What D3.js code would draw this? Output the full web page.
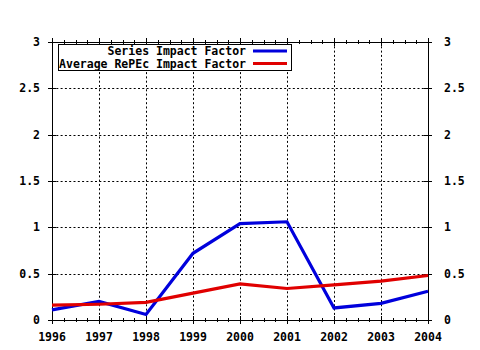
<!DOCTYPE html>
<html><head><meta charset="utf-8">
<script src="https://cdn.jsdelivr.net/npm/d3@7"></script>
<style>html,body{margin:0;padding:0;background:#fff;}svg{display:block;}</style>
</head><body>
<script>
const years = [1996,1997,1998,1999,2000,2001,2002,2003,2004];
const seriesIF = [0.11,0.20,0.06,0.72,1.04,1.06,0.13,0.18,0.31];
const averageIF = [0.16,0.17,0.19,0.29,0.39,0.34,0.38,0.42,0.48];
const yTicks = [0,0.5,1,1.5,2,2.5,3];
const seriesNames = ["Series Impact Factor","Average RePEc Impact Factor"];
const seriesColors = ["#0000dc","#e00000"];

const W=480,H=350, L=52, R=428, T=42, B=320;
const svg=d3.select("body").append("svg").attr("width",W).attr("height",H);
const x=d3.scaleLinear().domain([1996,2004]).range([L,R]);
const y=d3.scaleLinear().domain([0,3]).range([B,T]);
const font="'DejaVu Sans Mono', monospace";

// grid
const g=svg.append("g");
g.selectAll(".vg").data(years.slice(1,-1)).enter().append("line")
 .attr("x1",d=>Math.round(x(d))+0.5).attr("x2",d=>Math.round(x(d))+0.5).attr("y1",T).attr("y2",B)
 .attr("stroke","#000").attr("stroke-dasharray","2,2.3").attr("stroke-width",1);
g.selectAll(".hg").data(yTicks.slice(1,-1)).enter().append("line")
 .attr("y1",d=>Math.round(y(d))+0.5).attr("y2",d=>Math.round(y(d))+0.5).attr("x1",L).attr("x2",R)
 .attr("stroke","#000").attr("stroke-dasharray","2,2.3").attr("stroke-width",1);

// minor x ticks
const minors=[];
for(let i=0;i<years.length-1;i++){for(let k=1;k<4;k++)minors.push(years[i]+k/4);}
[B,T].forEach(yy=>{
 svg.selectAll(null).data(minors).enter().append("line")
  .attr("x1",d=>Math.round(x(d))+0.5).attr("x2",d=>Math.round(x(d))+0.5)
  .attr("y1",yy-2).attr("y2",yy+2).attr("stroke","#000");
 svg.selectAll(null).data(years).enter().append("line")
  .attr("x1",d=>Math.round(x(d))+0.5).attr("x2",d=>Math.round(x(d))+0.5)
  .attr("y1",yy-4).attr("y2",yy+4).attr("stroke","#000");
});
[L,R].forEach(xx=>{
 svg.selectAll(null).data(yTicks).enter().append("line")
  .attr("y1",d=>Math.round(y(d))+0.5).attr("y2",d=>Math.round(y(d))+0.5)
  .attr("x1",xx-4).attr("x2",xx+4).attr("stroke","#000");
});

// border
svg.append("rect").attr("x",L+0.5).attr("y",T+0.5).attr("width",R-L).attr("height",B-T)
 .attr("fill","none").attr("stroke","#000");

// lines
const line=d3.line().x((d,i)=>x(years[i])).y(d=>y(d));
[seriesIF,averageIF].forEach((s,i)=>{
 svg.append("path").datum(s).attr("d",line).attr("fill","none")
  .attr("stroke",seriesColors[i]).attr("stroke-width",3.2).attr("stroke-linejoin","miter");
});

// tick labels
svg.selectAll(null).data(years).enter().append("text")
 .attr("x",d=>x(d)).attr("y",341).attr("text-anchor","middle")
 .attr("font-family",font).attr("font-weight","bold").attr("font-size","11.5px").text(d=>d);
svg.selectAll(null).data(yTicks).enter().append("text")
 .attr("x",40).attr("y",d=>y(d)+4).attr("text-anchor","end")
 .attr("font-family",font).attr("font-weight","bold").attr("font-size","11.5px").text(d=>d);
svg.selectAll(null).data(yTicks).enter().append("text")
 .attr("x",444).attr("y",d=>y(d)+4).attr("text-anchor","start")
 .attr("font-family",font).attr("font-weight","bold").attr("font-size","11.5px").text(d=>d);

// legend
svg.append("rect").attr("x",58.5).attr("y",44.5).attr("width",233).attr("height",26)
 .attr("fill","#fff").attr("stroke","#000");
seriesNames.forEach((n,i)=>{
 const yy=51+i*12.5;
 svg.append("text").attr("x",246).attr("y",yy+4).attr("text-anchor","end")
  .attr("font-family",font).attr("font-weight","bold").attr("font-size","11.5px").text(n);
 svg.append("line").attr("x1",253).attr("x2",287).attr("y1",yy).attr("y2",yy)
  .attr("stroke",seriesColors[i]).attr("stroke-width",3.2);
});
</script>
</body></html>
